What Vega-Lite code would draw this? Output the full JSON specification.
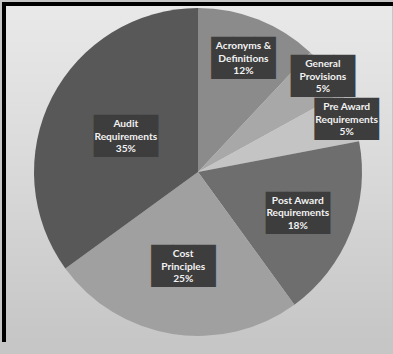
{
  "$schema": "https://vega.github.io/schema/vega-lite/v6.json",
  "width": 388,
  "height": 336,
  "autosize": "none",
  "padding": {"left": 4, "top": 4, "right": 1, "bottom": 14},
  "background": "#c6c6c6",
  "view": {
    "stroke": null,
    "fill": {
      "gradient": "linear", "x1": 0, "y1": 0, "x2": 0, "y2": 1,
      "stops": [
        {"offset": 0, "color": "#e9e9e9"},
        {"offset": 0.5, "color": "#d9d9d9"},
        {"offset": 1, "color": "#c6c6c6"}
      ]
    }
  },
  "data": {
    "values": [
      {"k": 1, "category": "Acronyms &\nDefinitions", "pct": 12},
      {"k": 2, "category": "General\nProvisions", "pct": 5},
      {"k": 3, "category": "Pre Award\nRequirements", "pct": 5},
      {"k": 4, "category": "Post Award\nRequirements", "pct": 18},
      {"k": 5, "category": "Cost\nPrinciples", "pct": 25},
      {"k": 6, "category": "Audit\nRequirements", "pct": 35}
    ]
  },
  "transform": [
    {"calculate": "datum.category + '\\n' + datum.pct + '%'", "as": "label"}
  ],
  "layer": [
    {
      "mark": {"type": "point", "opacity": 0},
      "encoding": {
        "x": {"datum": 0, "type": "quantitative", "scale": {"domain": [0, 1]},
              "axis": {"orient": "top", "labels": false, "ticks": false, "grid": false, "title": null,
                       "domainColor": "#000000", "domainWidth": 4, "domainCap": "square", "translate": 0}},
        "y": {"datum": 0, "type": "quantitative", "scale": {"domain": [0, 1]},
              "axis": {"orient": "left", "labels": false, "ticks": false, "grid": false, "title": null,
                       "domainColor": "#000000", "domainWidth": 4, "domainCap": "square", "translate": 0}}
      }
    },
    {
      "mark": {"type": "arc", "outerRadius": 164},
      "encoding": {
        "theta": {"field": "pct", "type": "quantitative", "stack": true},
        "order": {"field": "k", "type": "quantitative"},
        "color": {
          "field": "category", "type": "nominal", "legend": null,
          "scale": {
            "domain": ["Acronyms &\nDefinitions", "General\nProvisions", "Pre Award\nRequirements", "Post Award\nRequirements", "Cost\nPrinciples", "Audit\nRequirements"],
            "range": ["#8b8b8b", "#a8a8a8", "#c4c4c4", "#6e6e6e", "#a0a0a0", "#585858"]
          }
        }
      }
    },
    {
      "mark": {"type": "text", "font": "DejaVu Sans Mono", "fontSize": 35.5, "color": "#3d3d3d", "text": "███", "baseline": "middle", "align": "center", "dy": 2},
      "encoding": {
        "theta": {"field": "pct", "type": "quantitative", "stack": true},
        "order": {"field": "k", "type": "quantitative"},
        "detail": {"field": "category", "type": "nominal"},
        "radius": {"field": "pct", "type": "quantitative", "scale": {"type": "log", "domain": [5, 35], "range": [158, 81], "zero": false}}
      }
    },
    {
      "mark": {"type": "text", "font": "Lato", "fontWeight": "bold", "fontSize": 10.2, "lineHeight": 12.5, "lineBreak": "\n", "color": "#f2f2f2", "baseline": "middle", "align": "center", "dy": -11},
      "encoding": {
        "theta": {"field": "pct", "type": "quantitative", "stack": true},
        "order": {"field": "k", "type": "quantitative"},
        "detail": {"field": "category", "type": "nominal"},
        "radius": {"field": "pct", "type": "quantitative", "scale": {"type": "log", "domain": [5, 35], "range": [158, 81], "zero": false}},
        "text": {"field": "label", "type": "nominal"}
      }
    }
  ]
}
